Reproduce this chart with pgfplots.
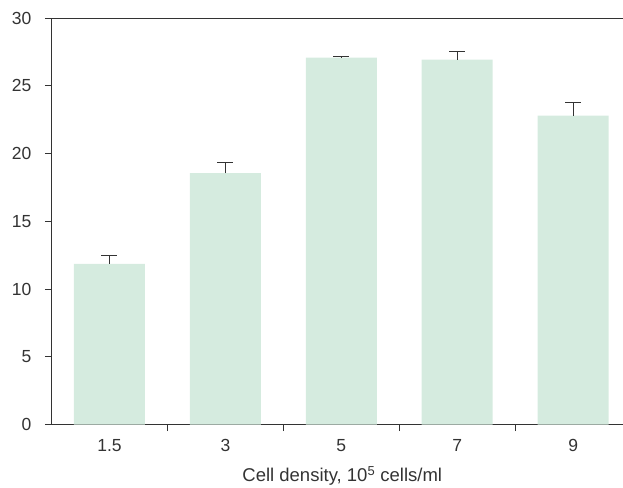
\documentclass[border=0pt]{standalone}
\usepackage{fontspec}
\setmainfont{Liberation Sans}
\usepackage{pgfplots}
\pgfplotsset{compat=1.18}
\definecolor{barfill}{RGB}{213,235,223}
\definecolor{txt}{RGB}{51,51,51}
\begin{document}
\begin{tikzpicture}[x=1pt,y=1pt]
\useasboundingbox (-51.5,-62.5) rectangle (571.5,424.5);
\begin{axis}[
  at={(0,0)}, anchor=south west,
  scale only axis,
  width=571.5pt, height=406.5pt,
  xmin=-0.5, xmax=4.43,
  ymin=0, ymax=30,
  axis x line*=bottom, axis y line*=left,
  axis line style={txt, line width=0.7pt, -},
  xtick={0,1,2,3,4},
  xticklabels={1.5,3,5,7,9},
  minor xtick={0.5,1.5,2.5,3.5},
  major x tick style={draw=none},
  minor tick length=6.5pt,
  ytick={0,5,...,30},
  major tick length=6.5pt,
  tick align=outside,
  tick style={txt, line width=0.7pt},
  ticklabel style={font=\fontsize{17.5}{20}\selectfont, text=txt},
  xticklabel style={yshift=-5pt},
  yticklabel style={xshift=-10pt},
  /pgf/number format/assume math mode=true,
  xlabel={Cell density, 10\textsuperscript{5} cells/ml},
  xlabel style={font=\fontsize{18.5}{20}\selectfont, text=txt, yshift=-8pt, xshift=5pt},
  clip=false,
]
\draw[txt, line width=0.7pt] (axis cs:-0.5,30) -- (axis cs:4.43,30);
\addplot[ybar, bar width=71pt, fill=barfill, draw=none,
  error bars/.cd, y dir=plus, y explicit,
  error bar style={txt, line width=1pt},
  error mark options={rotate=90, mark size=8pt, line width=1pt, txt}]
  table[x=x, y=y, y error=e] {
x y e
0 11.85 0.65
1 18.55 0.8
2 27.08 0.1
3 26.93 0.6
4 22.80 0.95
};
\end{axis}
\end{tikzpicture}
\end{document}
